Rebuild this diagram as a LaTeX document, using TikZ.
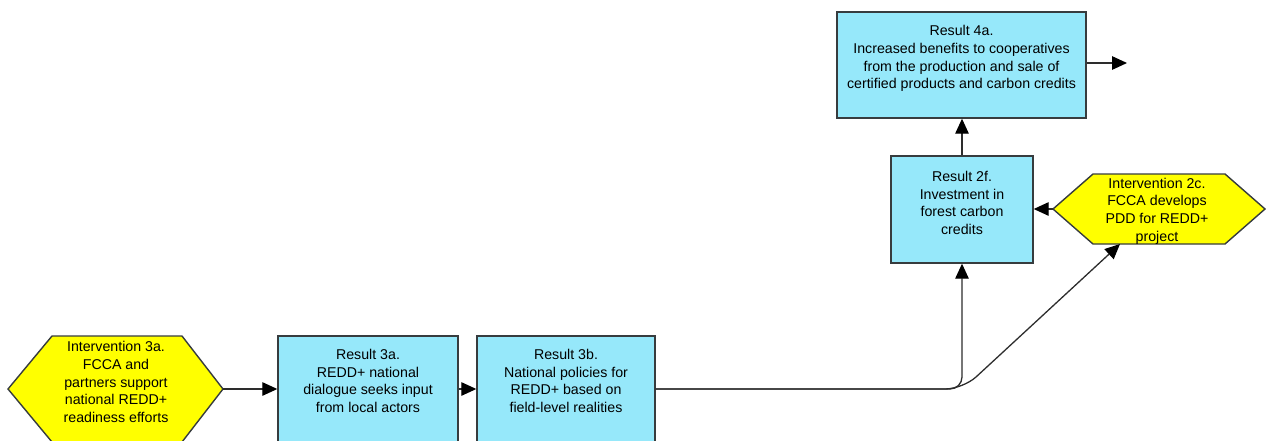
\documentclass[tikz,border=0pt]{standalone}
\usepackage{fontspec}
\setmainfont{Liberation Sans}
\usetikzlibrary{arrows.meta}
\definecolor{boxblue}{RGB}{150,232,250}
\definecolor{hexyellow}{RGB}{255,255,0}
\definecolor{edge}{RGB}{55,60,62}
\definecolor{wire}{RGB}{45,45,45}

\begin{document}
\begin{tikzpicture}[x=1pt,y=-1pt,
  resbox/.style={draw=edge, line width=1.4pt, fill=boxblue, inner sep=0pt},
  hexbox/.style={draw=edge, line width=1.4pt, fill=hexyellow, line join=miter},
  txt/.style={align=center, inner sep=0pt, font=\fontsize{14.2}{17.7}\selectfont},
  arr/.style={draw=wire, line width=1.3pt, -{Triangle[length=15pt,width=13.5pt,color=black]}}]

\useasboundingbox (0,0) rectangle (1266,440);
\clip (0,0) rectangle (1266,440);

% result boxes
\node[resbox, minimum width=249pt, minimum height=106pt] (r4a) at (961.5,65) {};
\node[txt] (r4a-t) at (961.5,58.5) {Result 4a.\\Increased benefits to cooperatives\\from the production and sale of\\certified products and carbon credits};

\node[resbox, minimum width=142pt, minimum height=107pt] (r2f) at (962,209.5) {};
\node[txt] (r2f-t) at (962,203) {Result 2f.\\Investment in\\forest carbon\\credits};

\node[resbox, minimum width=180pt, minimum height=114pt] (r3a) at (368,393) {};
\node[txt] (r3a-t) at (368,381) {Result 3a.\\REDD+ national\\dialogue seeks input\\from local actors};

\node[resbox, minimum width=178pt, minimum height=114pt] (r3b) at (566,393) {};
\node[txt] (r3b-t) at (566,381) {Result 3b.\\National policies for\\REDD+ based on\\field-level realities};

% intervention hexagons
\draw[hexbox] (1053,209) -- (1093,174) -- (1225,174) -- (1265,209) -- (1225,244) -- (1093,244) -- cycle;
\coordinate (i2c-w) at (1053,209);
\coordinate (i2c-s) at (1120,244);
\node[txt] (i2c) at (1157,211) {Intervention 2c.\\FCCA develops\\PDD for REDD+\\project};

\draw[hexbox] (8,389) -- (52,336) -- (182,336) -- (223,389) -- (182,442) -- (52,442) -- cycle;
\coordinate (i3a-e) at (223,389);
\node[txt] (i3a) at (116,382) {Intervention 3a.\\FCCA and\\partners support\\national REDD+\\readiness efforts};

% connectors
\coordinate (lane) at (0,389);
\coordinate (out) at (1127,63);
\coordinate (bend) at (962,389);
\coordinate (fork) at (963,389);

\draw[arr] (i3a-e) -- (r3a.west |- lane);
\draw[arr] (r3a.east |- lane) -- (r3b.west |- lane);
\draw[arr, rounded corners=12pt] (r3b.east |- lane) -- (bend) -- (r2f.south);
\draw[arr, rounded corners=18pt] (r3b.east |- lane) -- (fork) -- (i2c-s);
\draw[arr] (i2c-w) -- (r2f.east |- i2c-w);
\draw[arr] (r2f.north) -- (r2f.north |- r4a.south);
\draw[arr] (r4a.east |- out) -- (out);

\end{tikzpicture}
\end{document}
